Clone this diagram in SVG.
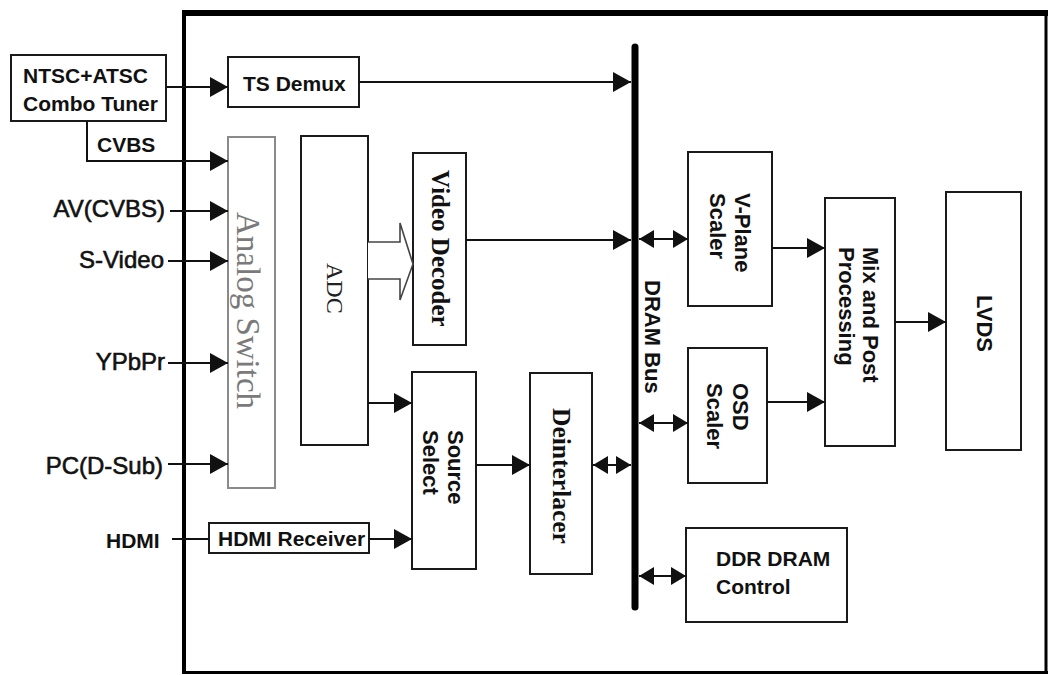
<svg xmlns="http://www.w3.org/2000/svg" width="1049" height="675" viewBox="0 0 1049 675">
<style>
.box{fill:#fff;stroke:#1a1a1a;stroke-width:2}
.gbox{fill:#fff;stroke:#8a8a8a;stroke-width:2}
.ln{fill:none;stroke:#111;stroke-width:2}
.b{font-family:"Liberation Sans",Arial,sans-serif;font-weight:bold;font-size:21px;fill:#111}
.r{font-family:"Liberation Sans",Arial,sans-serif;font-weight:bold;font-size:22px;fill:#111}
.in{font-family:"Liberation Sans",Arial,sans-serif;font-size:24px;fill:#111;stroke:#111;stroke-width:0.6}
.sf{font-family:"Liberation Serif","Times New Roman",serif;font-weight:bold;font-size:25px;fill:#111}
</style>
<defs>
<marker id="a" markerUnits="userSpaceOnUse" markerWidth="18" markerHeight="20" viewBox="0 0 18 20" refX="18" refY="10" orient="auto-start-reverse"><path d="M0,0 L18,10 L0,20 z" fill="#111"/></marker>
<marker id="as" markerUnits="userSpaceOnUse" markerWidth="15" markerHeight="18" viewBox="0 0 15 18" refX="15" refY="9" orient="auto-start-reverse"><path d="M0,0 L15,9 L0,18 z" fill="#111"/></marker>
</defs>
<rect width="1049" height="675" fill="#fff"/>
<g id="frame" fill="none" stroke="#000">
<path d="M182,13 H1048" stroke-width="6"/>
<path d="M184,10 V674" stroke-width="4"/>
<path d="M1046,10 V674" stroke-width="3"/>
<path d="M182,672.5 H1048" stroke-width="3"/>
</g>
<g id="tuner"><rect class="box" x="11" y="55" width="155" height="66"/><text class="b" x="23" y="83">NTSC+ATSC</text><text class="b" x="23" y="111">Combo Tuner</text></g>
<g id="tsdemux"><rect class="box" x="228" y="57" width="131" height="50"/><text class="b" x="243" y="91">TS Demux</text></g>
<g id="analogswitch"><rect class="gbox" x="228" y="137" width="47" height="351"/><text transform="translate(237,212) rotate(90)" style="font-family:'Liberation Serif','Times New Roman',serif;font-size:33px;fill:#7a7a7a">Analog Switch</text></g>
<g id="adc"><rect class="box" x="301" y="136" width="67" height="309"/><text transform="translate(327,263) rotate(90)" style="font-family:'Liberation Serif','Times New Roman',serif;font-size:24px;fill:#222">ADC</text></g>
<g id="videodecoder"><rect class="box" x="413" y="153" width="53" height="192"/><text class="sf" transform="translate(432,170) rotate(90)">Video Decoder</text></g>
<g id="sourceselect"><rect class="box" x="412" y="372" width="64" height="197"/><text class="r" transform="translate(448,430) rotate(90)"><tspan x="0" y="0">Source</tspan><tspan x="0" y="25">Select</tspan></text></g>
<g id="hdmireceiver"><rect class="box" x="209" y="523" width="160" height="30"/><text class="b" x="218" y="546">HDMI Receiver</text></g>
<g id="deinterlacer"><rect class="box" x="530" y="373" width="62" height="201"/><text class="sf" transform="translate(553,408) rotate(90)" style="font-size:25.5px">Deinterlacer</text></g>
<g id="drambus"><path d="M635,47 V607" stroke="#000" stroke-width="7" stroke-linecap="round"/><text class="r" transform="translate(645,280) rotate(90)">DRAM Bus</text></g>
<g id="vplanescaler"><rect class="box" x="688" y="152" width="84" height="154"/><text class="r" transform="translate(735,193) rotate(90)"><tspan x="0" y="0">V-Plane</tspan><tspan x="0" y="25">Scaler</tspan></text></g>
<g id="osdscaler"><rect class="box" x="688" y="348" width="79" height="135"/><text class="r" transform="translate(733,383) rotate(90)"><tspan x="0" y="0">OSD</tspan><tspan x="0" y="26">Scaler</tspan></text></g>
<g id="mixpost"><rect class="box" x="825" y="198" width="70" height="248"/><text class="r" transform="translate(863,247) rotate(90)"><tspan x="0" y="0">Mix and Post</tspan><tspan x="0" y="24">Processing</tspan></text></g>
<g id="lvds"><rect class="box" x="946" y="192" width="75" height="258"/><text class="r" transform="translate(977,295) rotate(90)">LVDS</text></g>
<g id="ddrdram"><rect class="box" x="686" y="528" width="161" height="94"/><text class="b" x="716" y="566">DDR DRAM</text><text class="b" x="716" y="594">Control</text></g>
<g id="connectors">
<path class="ln" d="M166,87 H228" marker-end="url(#a)"/>
<path class="ln" d="M359,82 H631" marker-end="url(#a)"/>
<path class="ln" d="M87,121 V161 H228" marker-end="url(#a)"/>
<path class="ln" d="M170,211 H228" marker-end="url(#a)"/>
<path class="ln" d="M168,261 H228" marker-end="url(#a)"/>
<path class="ln" d="M168,363 H228" marker-end="url(#a)"/>
<path class="ln" d="M168,464 H228" marker-end="url(#a)"/>
<path class="ln" d="M172,539 H209"/>
<path class="ln" d="M369,539 H412" marker-end="url(#a)"/>
<path d="M368,242 H400 V223 L413,264 L400,300 V279 H368" fill="#fff" stroke="#444" stroke-width="1.6"/>
<path class="ln" d="M368,403 H412" marker-end="url(#a)"/>
<path class="ln" d="M466,240 H631" marker-end="url(#a)"/>
<path class="ln" d="M476,465 H530" marker-end="url(#a)"/>
<path class="ln" d="M593,465 H631" marker-start="url(#as)" marker-end="url(#as)"/>
<path class="ln" d="M639,239 H688" marker-start="url(#as)" marker-end="url(#as)"/>
<path class="ln" d="M639,423 H688" marker-start="url(#as)" marker-end="url(#as)"/>
<path class="ln" d="M639,576 H686" marker-start="url(#as)" marker-end="url(#as)"/>
<path class="ln" d="M772,248 H825" marker-end="url(#a)"/>
<path class="ln" d="M767,402 H825" marker-end="url(#a)"/>
<path class="ln" d="M895,322 H946" marker-end="url(#a)"/>
</g>
<g id="labels">
<text class="b" x="97" y="152">CVBS</text>
<text class="in" x="165" y="217" text-anchor="end">AV(CVBS)</text>
<text class="in" x="164" y="268" text-anchor="end">S-Video</text>
<text class="in" x="165" y="370" text-anchor="end">YPbPr</text>
<text class="in" x="163" y="474" text-anchor="end">PC(D-Sub)</text>
<text class="b" x="106" y="548">HDMI</text>
</g>
</svg>
